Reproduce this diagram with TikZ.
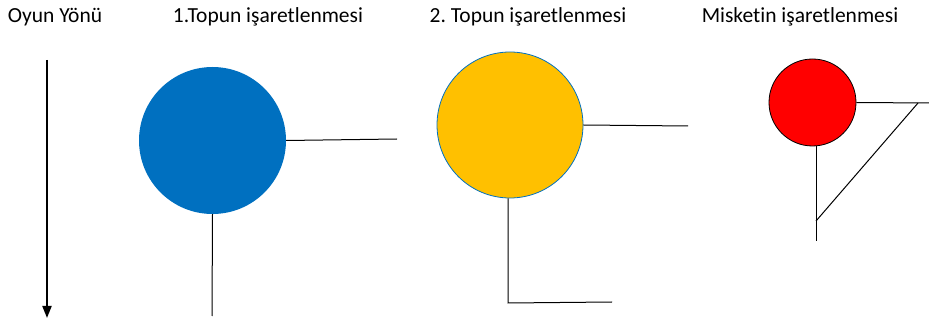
\documentclass[tikz,border=0pt]{standalone}
\usepackage{fontspec}
\setmainfont{Carlito}[Ligatures=NoCommon]
\frenchspacing
\usetikzlibrary{positioning,arrows.meta}

\definecolor{topmavi}{HTML}{0070C0}
\definecolor{topsari}{HTML}{FFC000}

\tikzset{
  baslik/.style = {font=\fontsize{21.5}{24}\selectfont, inner sep=0pt},
  top/.style = {circle, minimum size=#1, inner sep=0pt},
  cizgi/.style = {draw=black, line width=1pt}
}

\begin{document}
\begin{tikzpicture}[x=1pt, y=-1pt]
\useasboundingbox (0,0) rectangle (929,320);
% basliklar
\node[baslik] (yon) at (55,17) {Oyun Yönü};
\node[baslik] (b1) at (268,17) {1.Topun işaretlenmesi};
\node[baslik] (b2) at (528,17) {2. Topun işaretlenmesi};
\node[baslik] (b3) at (800,17) {Misketin işaretlenmesi};
% oyun yonu
\coordinate (yonA) at (47,60);
\coordinate (yonB) at (47,318);
\draw[line width=1.8pt, -{Triangle[length=12pt, width=9pt]}] (yonA) -- (yonB);
% 1. top
\node[top=147pt, fill=topmavi] (top1) at (212.5,140.5) {};
\coordinate (t1sag) at (397,139);
\coordinate (t1alt) at (212,316);
\draw[cizgi] (top1.east) -- (t1sag);
\draw[cizgi] (top1.south) -- (t1alt);
% 2. top
\node[top=146pt, fill=topsari, draw=topmavi, line width=0.8pt] (top2) at (510,125) {};
\coordinate (t2sag) at (688,126);
\coordinate (t2alt) at (508,303);
\coordinate (t2uc) at (612,302);
\draw[cizgi] (top2.east) -- (t2sag);
\draw[cizgi] (top2.south -| t2alt) -- (t2alt) -- (t2uc);
% misket
\node[top=87pt, fill=red, draw=black, line width=0.8pt] (misket) at (812.5,102.5) {};
\coordinate (msag) at (929,103);
\coordinate (mkose) at (918,103);
\coordinate (mkirik) at (816,221);
\coordinate (malt) at (816,241);
\draw[cizgi] (misket.east) -- (msag);
\draw[cizgi] (mkose) -- (mkirik);
\draw[cizgi] (misket.south -| malt) -- (malt);
\end{tikzpicture}
\end{document}
